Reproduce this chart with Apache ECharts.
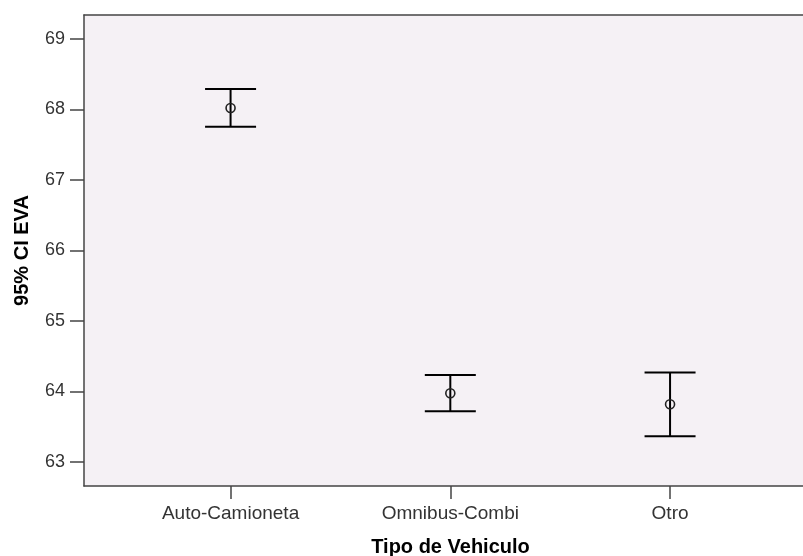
<!DOCTYPE html>
<html>
<head>
<meta charset="utf-8">
<script src="https://cdn.jsdelivr.net/npm/echarts@6/dist/echarts.min.js"></script>
<style>
  html, body { margin: 0; padding: 0; background: #ffffff; }
  #chart { width: 803px; height: 556px; }
</style>
</head>
<body>
<div id="chart"></div>
<script>
// Vehicle types and 95% confidence intervals of EVA
const categories = ['Auto-Camioneta', 'Omnibus-Combi', 'Otro'];
const means = [68.02, 63.975, 63.82];
const lowerCI = [67.755, 63.72, 63.365];
const upperCI = [68.29, 64.235, 64.27];
const yTicks = [63, 64, 65, 66, 67, 68, 69];
const xTicks = [0, 1, 2];

const font = 'Liberation Sans, Arial, sans-serif';
const errData = categories.map((c, i) => [i, lowerCI[i], upperCI[i], means[i]]);

const chart = echarts.init(document.getElementById('chart'), null, { renderer: 'canvas' });

chart.setOption({
  animation: false,
  backgroundColor: '#ffffff',
  grid: {
    left: 84, right: 0, top: 15, bottom: 70,
    containLabel: false,
    outerBoundsMode: 'none',
    show: true, backgroundColor: '#f5f1f5', borderWidth: 0
  },
  xAxis: [{
    type: 'value',
    min: -0.667, max: 2.605,
    position: 'bottom',
    name: 'Tipo de Vehiculo',
    nameLocation: 'middle',
    nameGap: 51,
    nameTextStyle: { fontFamily: font, fontSize: 20, fontWeight: 'bold', color: '#000', padding: [0, 0, 0, 14] },
    splitLine: { show: false },
    axisLine: { onZero: false, lineStyle: { color: '#444', width: 1.5 } },
    axisTick: { customValues: xTicks, length: 13, lineStyle: { color: '#444', width: 1.5 } },
    axisLabel: {
      customValues: xTicks,
      formatter: v => categories[Math.round(v)],
      fontFamily: font, fontSize: 19, color: '#333', margin: 18
    }
  }, {
    type: 'value',
    min: -0.667, max: 2.605,
    position: 'top',
    splitLine: { show: false },
    axisLine: { show: true, onZero: false, lineStyle: { color: '#444', width: 1.5 } },
    axisTick: { show: false },
    axisLabel: { show: false }
  }],
  yAxis: {
    type: 'value',
    min: 62.66, max: 69.34,
    position: 'left',
    name: '95% CI EVA',
    nameLocation: 'middle',
    nameGap: 52,
    nameTextStyle: { fontFamily: font, fontSize: 20, fontWeight: 'bold', color: '#000' },
    splitLine: { show: false },
    axisLine: { show: true, onZero: false, lineStyle: { color: '#444', width: 1.5 } },
    axisTick: { customValues: yTicks, length: 14, lineStyle: { color: '#444', width: 1.5 } },
    axisLabel: { customValues: yTicks, fontFamily: font, fontSize: 18, color: '#333', margin: 19 }
  },
  series: [{
    type: 'custom',
    xAxisIndex: 0,
    data: errData,
    renderItem: function (params, api) {
      const x = api.value(0);
      const lo = api.coord([x, api.value(1)]);
      const hi = api.coord([x, api.value(2)]);
      const m = api.coord([x, api.value(3)]);
      const hw = 25.5;
      const stroke = { stroke: '#000', lineWidth: 2 };
      return {
        type: 'group',
        children: [
          { type: 'line', shape: { x1: hi[0], y1: hi[1], x2: lo[0], y2: lo[1] }, style: stroke },
          { type: 'line', shape: { x1: hi[0] - hw, y1: hi[1], x2: hi[0] + hw, y2: hi[1] }, style: stroke },
          { type: 'line', shape: { x1: lo[0] - hw, y1: lo[1], x2: lo[0] + hw, y2: lo[1] }, style: stroke },
          { type: 'circle', shape: { cx: m[0], cy: m[1], r: 4.5 }, style: { fill: 'none', stroke: '#222', lineWidth: 1.6 } }
        ]
      };
    }
  }]
});
</script>
</body>
</html>
